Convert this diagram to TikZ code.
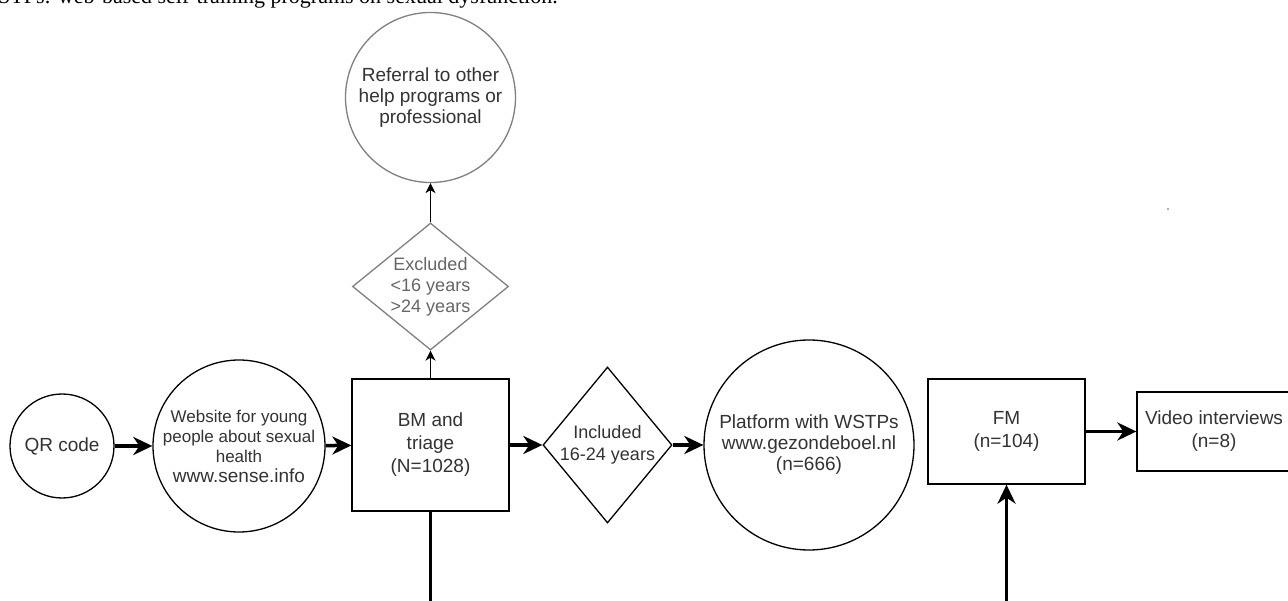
\documentclass[tikz,border=0pt]{standalone}
\usepackage{fontspec}
\setmainfont{Liberation Sans}
\newfontfamily\captionserif{Liberation Serif}
\usetikzlibrary{shapes.geometric,arrows.meta}

\begin{document}
\begin{tikzpicture}[x=1pt,y=-1pt,
        every node/.style={font=\fontsize{19}{23}\selectfont,text=black!80,align=center,inner sep=0pt},
        stage/.style={draw=black,line width=1.3pt,fill=white},
        bubble/.style={stage,circle},
        decide/.style={stage,diamond},
        flow/.style={line width=3.5pt,-{Stealth[length=19pt,width=18pt,inset=6pt]}},
        side/.style={line width=1.3pt,-{Stealth[length=10pt,width=10pt,inset=3pt]}}]
        % Background
        \useasboundingbox (0,0) rectangle (1288,601);
        \draw[draw=none,fill=white] (0,0) rectangle (1288,601);

        % Caption (cut off at the top)
        \node[anchor=base east,font=\captionserif\fontsize{22}{26}\selectfont,text=black] (caption) at (558,4) {WSTPs: web-based self-training programs on sexual dysfunction.};

        % Main row
        \node[bubble,minimum size=104pt] (qr) at (62,446) {QR code};
        \node[bubble,minimum size=172pt,font=\fontsize{17}{20}\selectfont] (site) at (239,446) {Website for young\\people about sexual\\health\\{\fontsize{19}{20}\selectfont www.sense.info}};
        \node[stage,minimum width=157pt,minimum height=132pt] (bm) at (430.5,445) {BM and\\triage\\(N=1028)};
        \node[decide,shape aspect=0.83,minimum width=129pt,minimum height=156pt,font=\fontsize{18}{22}\selectfont] (incl) at (607.5,445) {Included\\16-24 years};
        \node[bubble,minimum size=210pt,font=\fontsize{19}{21}\selectfont] (wstp) at (809,445) {Platform with WSTPs\\www.gezondeboel.nl\\(n=666)};
        \node[stage,minimum width=157pt,minimum height=105pt] (fm) at (1006.5,431.5) {FM\\(n=104)};
        \node[stage,minimum width=154pt,minimum height=79pt] (video) at (1214,431.5) {Video interviews\\(n=8)};

        % Exclusion branch
        \node[decide,draw=black!50,text=black!60,shape aspect=1.23,minimum width=156pt,minimum height=127pt,font=\fontsize{18}{21}\selectfont] (excl) at (430.5,286.5) {Excluded\\<16 years\\>24 years};
        \node[bubble,draw=black!50,minimum size=170pt,font=\fontsize{19}{21}\selectfont] (refer) at (430.5,97.5) {Referral to other\\help programs or\\professional};

        % Connectors
        \draw[flow] (qr) -- (site);
        \draw[flow] (site) -- (bm);
        \draw[flow] (bm) -- (incl);
        \draw[flow] (incl) -- (wstp);
        \draw[flow] (fm) -- (video);
        \draw[side] (bm) -- (excl);
        \draw[side] (excl) -- (refer);
        \coordinate (turn) at (430.5,602.5);
        \draw[flow] (bm.south) -- (turn) -| (fm.south);

        % Stray dot
        \fill[black!40] (1168,209) circle (1.2pt);
    \end{tikzpicture}
\end{document}
